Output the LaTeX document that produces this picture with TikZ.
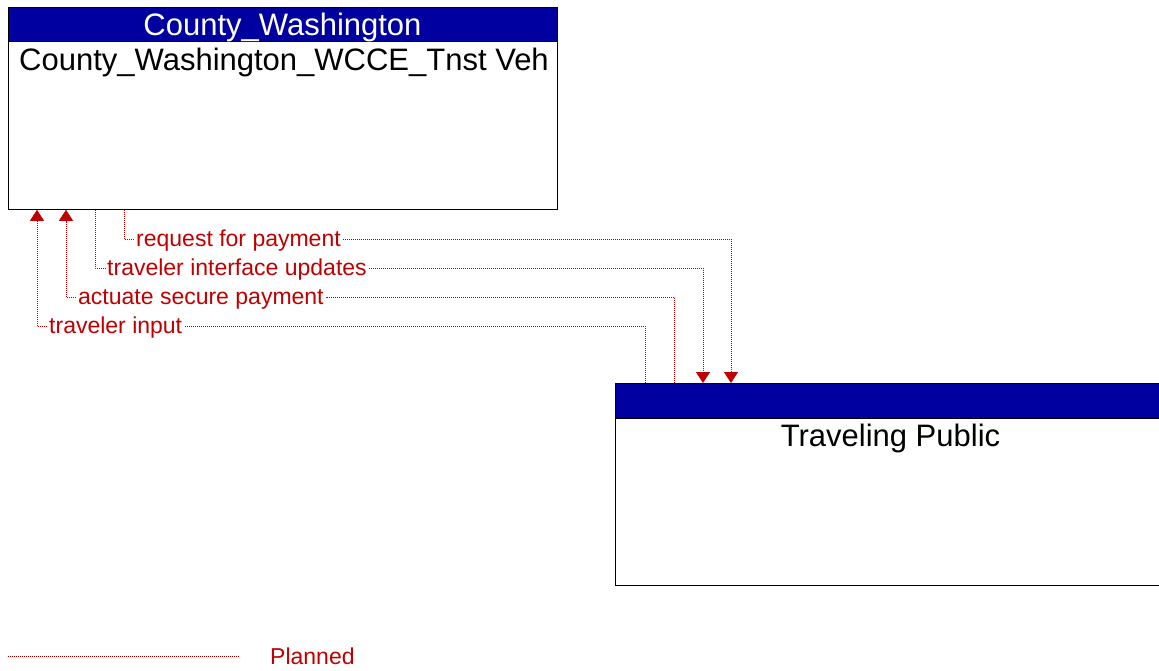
\documentclass[tikz,border=0pt]{standalone}
\usepackage{fontspec}
\setmainfont{Liberation Sans}
\usetikzlibrary{arrows.meta}
\definecolor{hdr}{RGB}{0,0,160}
\definecolor{flow}{RGB}{192,0,0}
\begin{document}
\begin{tikzpicture}[x=1pt,y=-1pt,
 conn/.style={draw=flow, line width=0.8pt, dash pattern=on 1pt off 1pt},
 tip/.style={-{Triangle[width=14pt,length=11pt,fill=flow]}},
 lbl/.style={anchor=west, text=flow, font=\fontsize{23}{26}\selectfont, inner xsep=2pt, inner ysep=0pt, text height=20.5pt, text depth=4.8pt},
 box/.style={draw=black, line width=0.8pt, anchor=north west, inner sep=0pt},
 hdrbox/.style={draw=black, fill=hdr, line width=0.8pt, anchor=north west, inner sep=0pt},
 big/.style={font=\fontsize{31}{36}\selectfont, inner sep=0pt}
]
\useasboundingbox (0,0) rectangle (1159,670);

% County box
\node[box, minimum width=549pt, minimum height=202pt] (cw) at (8,7) {};
\node[hdrbox, minimum width=549pt, minimum height=34pt] (cwh) at (8,7) {};
\node[big, text=white, anchor=base] (cwt) at (282.5,35) {County\_Washington};
\node[big, anchor=base] (cwn) at (284,70) {County\_Washington\_WCCE\_Tnst Veh};

% Traveling Public box
\node[box, minimum width=551pt, minimum height=202pt] (tp) at (615,383) {};
\node[hdrbox, minimum width=551pt, minimum height=35pt] (tph) at (615,383) {};
\node[big, anchor=base] (tpn) at (890.5,446) {Traveling Public};

% column coordinates
\coordinate (x124) at (124,0);
\coordinate (x95) at (95,0);
\coordinate (x66) at (66,0);
\coordinate (x37) at (37,0);
\coordinate (x731) at (731,0);
\coordinate (x703) at (703,0);
\coordinate (x674) at (674,0);
\coordinate (x645) at (645,0);

% labels
\node[lbl] (l1) at (134,239) {request for payment};
\node[lbl] (l2) at (105,268) {traveler interface updates};
\node[lbl] (l3) at (76,297) {actuate secure payment};
\node[lbl] (l4) at (47,326) {traveler input};

% connectors
\draw[conn] (cw.south -| x124) |- (l1.west);
\draw[conn, tip] (l1.east) -| (tph.north -| x731);
\draw[conn] (cw.south -| x95) |- (l2.west);
\draw[conn, tip] (l2.east) -| (tph.north -| x703);
\draw[conn] (tph.north -| x674) |- (l3.east);
\draw[conn, tip] (l3.west) -| (cw.south -| x66);
\draw[conn] (tph.north -| x645) |- (l4.east);
\draw[conn, tip] (l4.west) -| (cw.south -| x37);

% legend
\coordinate (lg1) at (8,656);
\coordinate (lg2) at (240,656);
\draw[conn] (lg1) -- (lg2);
\node[text=flow, font=\fontsize{23}{26}\selectfont, inner sep=0pt, anchor=base west] (lgt) at (270,664) {Planned};
\end{tikzpicture}
\end{document}
